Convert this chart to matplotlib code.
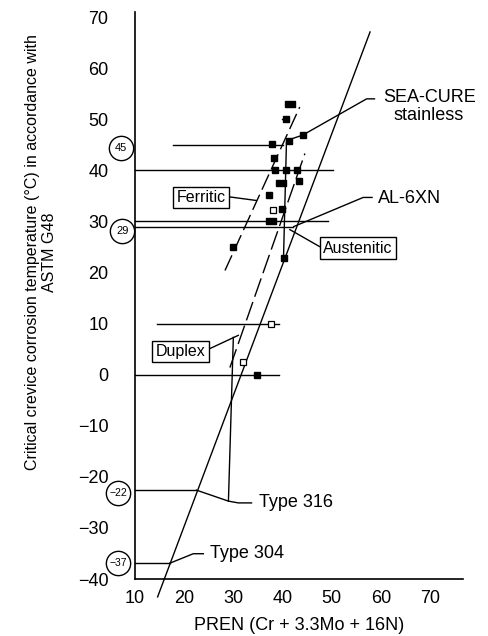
#!/usr/bin/env python3

import matplotlib
matplotlib.use('Agg')
import matplotlib.pyplot as plt
from matplotlib.path import Path

plt.rcParams['font.family'] = ['Liberation Sans', 'DejaVu Sans']

# data (PREN on x, temperature in degC on y)
filled_x = [40.8, 44.1, 41.4, 37.9, 38.3, 38.5, 40.8, 43.0, 43.3, 37.2, 39.8, 40.2, 30.0, 34.9]
filled_y = [50.0, 47.0, 45.7, 45.1, 42.4, 40.0, 40.0, 40.0, 38.0, 35.1, 32.5, 22.8, 25.0, 0.0]
wide_x = [41.5, 39.6, 37.6]
wide_y = [52.9, 37.5, 30.0]
open_x = [38.1, 37.6, 31.9]
open_y = [32.3, 10.0, 2.5]

trend_x = [14.6, 57.8]
trend_y = [-43.5, 67.1]
ferritic_x = [28.3, 43.5]
ferritic_y = [20.4, 52.4]
duplex_x = [29.3, 44.55]
duplex_y = [1.4, 43.3]
drop_x = [40.8, 40.2]
drop_y = [45.5, 22.8]

# horizontal reference lines: (temperature, x start, x end)
ref_lines = [(45, 17.7, 40.1), (40, 10, 50.3), (30, 10, 49.3), (29, 10, 42.2),
             (10, 14.5, 39.3), (0, 10, 39.3), (-22.6, 10, 22.5), (-36.9, 10, 17.1)]

# circled values beside the axis
circle_labels = ['45', '29', '\u221222', '\u221237']
circle_y = [44.3, 28.2, -23.2, -36.9]
circle_x = [7.2, 7.4, 6.6, 6.6]

xticks = [10, 20, 30, 40, 50, 60, 70]
yticks = [-40, -30, -20, -10, 0, 10, 20, 30, 40, 50, 60, 70]


def main():
    fig = plt.figure(figsize=(4.88, 6.36), dpi=100)
    ax = fig.add_axes([0.2766, 0.0896, 0.6722, 0.8915])
    ax.set_xlim(10, 76.7)
    ax.set_ylim(-40, 71)

    for side in ('top', 'right'):
        ax.spines[side].set_visible(False)
    for side in ('left', 'bottom'):
        ax.spines[side].set_linewidth(1.2)

    ax.set_xticks(xticks)
    ax.set_yticks(yticks)
    ax.tick_params(axis='both', length=0, labelsize=13)
    ax.tick_params(axis='y', pad=19)
    ax.tick_params(axis='x', pad=8)

    lw = 1.0
    ax.plot(trend_x, trend_y, color='black', lw=lw, clip_on=False)
    ax.plot(ferritic_x, ferritic_y, color='black', lw=lw, dashes=(12, 4))
    ax.plot(duplex_x, duplex_y, color='black', lw=lw, dashes=(14, 4))
    ax.plot(drop_x, drop_y, color='black', lw=lw)
    ax.plot([39.8, 40.8], [50.0, 50.0], color='black', lw=lw)

    for yv, x0, x1 in ref_lines:
        ax.plot([x0, x1], [yv, yv], color='black', lw=lw, clip_on=False)

    # leaders for the callouts
    ax.plot([41.0, 44.1, 57.1, 58.7], [45.9, 46.9, 54.0, 54.0], color='black', lw=lw)
    ax.plot([42.3, 56.4, 58.2], [29.0, 34.7, 34.7], color='black', lw=lw)
    ax.plot([41.5, 47.5], [28.4, 25.1], color='black', lw=lw)
    ax.plot([29.3, 34.7], [34.8, 34.1], color='black', lw=lw)
    ax.plot([25.2, 31.0], [5.1, 7.7], color='black', lw=lw)
    ax.plot([30.0, 29.0], [7.3, -24.75], color='black', lw=lw)
    ax.plot([22.5, 29.0, 31.0, 33.7], [-22.6, -24.75, -25.1, -25.1], color='black', lw=lw)
    ax.plot([17.1, 21.85, 23.9], [-36.9, -35.05, -35.05], color='black', lw=lw)

    wide = Path([(-1, -0.5), (1, -0.5), (1, 0.5), (-1, 0.5), (-1, -0.5)])
    ax.plot(filled_x, filled_y, 's', ms=4, color='black', zorder=5)
    ax.plot(wide_x, wide_y, marker=wide, ls='none', ms=7.5, color='black', zorder=5)
    ax.plot(open_x, open_y, 's', ms=4, mfc='white', mec='black', mew=0.9, zorder=5)

    for lab, cx, cy in zip(circle_labels, circle_x, circle_y):
        ax.plot(cx, cy, 'o', ms=17.5, mfc='white', mec='black', mew=1.0, clip_on=False, zorder=6)
        fs = 8 if len(lab) == 2 else 7.5
        ax.text(cx, cy, lab, ha='center', va='center', fontsize=fs, zorder=7, clip_on=False)

    ax.text(69.8, 52.5, 'SEA-CURE\nstainless', ha='center', va='center', fontsize=13,
            linespacing=1.1)
    ax.text(59.4, 34.5, 'AL-6XN', ha='left', va='center', fontsize=13)
    ax.text(35.3, -25.1, 'Type 316', ha='left', va='center', fontsize=13)
    ax.text(25.2, -35.05, 'Type 304', ha='left', va='center', fontsize=13)

    box = dict(boxstyle='square,pad=0.2', fc='white', ec='black', lw=1.0)
    ax.text(23.4, 34.65, 'Ferritic', ha='center', va='center', fontsize=11.5, bbox=box)
    ax.text(55.3, 24.8, 'Austenitic', ha='center', va='center', fontsize=11.5, bbox=box)
    ax.text(19.25, 4.5, 'Duplex', ha='center', va='center', fontsize=11.5, bbox=box)

    ax.set_xlabel('PREN (Cr + 3.3Mo + 16N)', fontsize=13, labelpad=7)
    fig.text(41 / 488, 1 - 252 / 636,
             'Critical crevice corrosion temperature (\u00b0C) in accordance with\nASTM G48',
             rotation=90, ha='center', va='center', fontsize=11.5, multialignment='center',
             linespacing=1.15)

    fig.savefig('out.png', dpi=100)


if __name__ == '__main__':
    main()
